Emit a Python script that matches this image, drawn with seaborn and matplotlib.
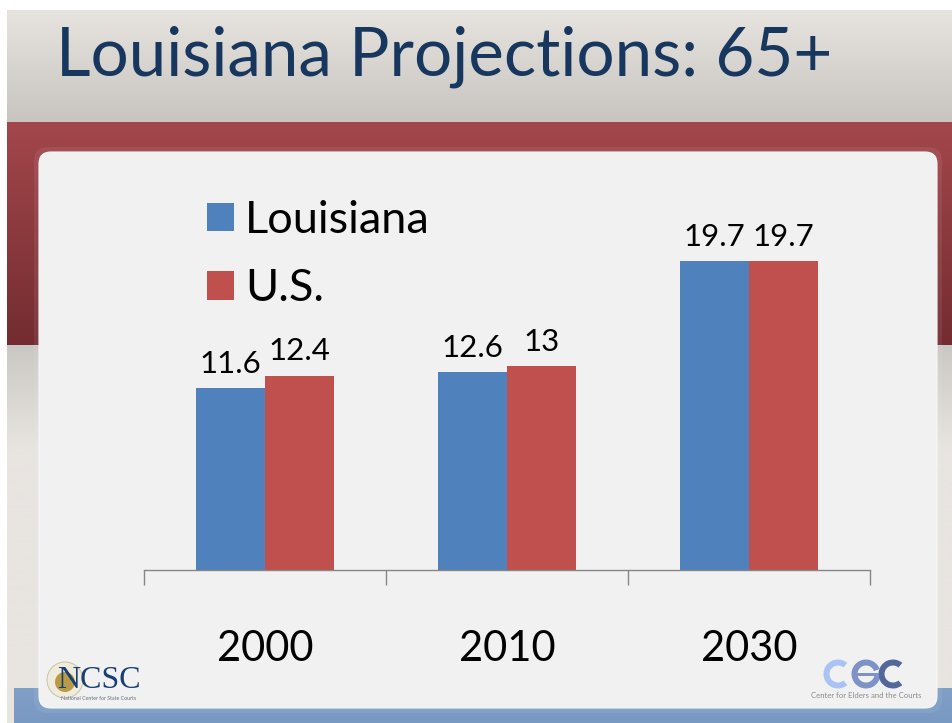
import numpy as np
import pandas as pd
import seaborn as sns
import matplotlib
matplotlib.use("Agg")
import matplotlib.pyplot as plt
from matplotlib.colors import LinearSegmentedColormap
from matplotlib.patches import FancyBboxPatch, Rectangle, Circle, Wedge

years = ["2000", "2010", "2030"]
louisiana = [11.6, 12.6, 19.7]
us = [12.4, 13, 19.7]
louisiana_labels = ["11.6", "12.6", "19.7"]
us_labels = ["12.4", "13", "19.7"]
title = "Louisiana Projections: 65+"

sns.set_theme(style="white")
plt.rcParams["font.family"] = ["Lato", "DejaVu Sans"]

W, H = 952, 723
fig = plt.figure(figsize=(W / 100, H / 100), dpi=100, facecolor="white")

# slide background, in pixel coordinates
bg = fig.add_axes([0, 0, 1, 1], zorder=0)


def band(x0, x1, y0, y1, c0, c1):
    cmap = LinearSegmentedColormap.from_list("b", [c0, c1])
    grad = np.linspace(0, 1, 256).reshape(-1, 1)
    bg.imshow(grad, extent=(x0, x1, y1, y0), cmap=cmap, aspect="auto", zorder=1)


band(7, W, 10, 122, "#E7E3DF", "#C8C4C0")
band(7, W, 122, 345, "#A3474B", "#732C30")
band(7, W, 345, 450, "#CBC7C3", "#E8E4E0")
band(7, W, 450, 688, "#E8E4E0", "#E8E4E0")
band(14, W, 688, H, "#7F9FC6", "#7899C2")
band(7, 14, 688, H, "#E8E4E0", "#E8E4E0")
bg.set_xlim(0, W)
bg.set_ylim(H, 0)
bg.axis("off")

bg.add_patch(FancyBboxPatch((34, 147), 908, 566,
                            boxstyle="round,pad=0,rounding_size=14",
                            fc="#FFFFFF", ec="none", alpha=0.07, zorder=2))
bg.add_patch(FancyBboxPatch((39, 152), 898, 556,
                            boxstyle="round,pad=0,rounding_size=12",
                            fc="#F1F1F1", ec="#F8F8F8", lw=0.8, zorder=3))

bg.text(55.5, 57, title, fontsize=48.5, color="#17375E", va="center", ha="left", zorder=4)

# NCSC logo
bg.add_patch(Circle((65, 680), 18, fc="#EFEBDD", ec="#C9C2A0", lw=0.7, zorder=4))
bg.add_patch(Circle((65, 682), 10, fc="#B99A45", ec="none", zorder=4))
bg.text(98.5, 681, "NCSC", fontsize=23, color="#173F73", ha="center", va="center",
        family=["Liberation Serif"], zorder=5)
bg.text(99, 698, "National Center for State Courts", fontsize=3.8, color="#5F6F85",
        ha="center", va="center", zorder=5)

# CEC logo drawn as three rings
for cx, colour, a0, a1 in [(838, "#A9C3F2", 50, 310), (866, "#7D93C8", 10, 340),
                           (893, "#53689A", 50, 310)]:
    bg.add_patch(Wedge((cx, 674), 14.5, a0, a1, width=6, fc=colour, ec="none", zorder=5))
bg.add_patch(Rectangle((853, 672.5), 26, 3, fc="#7D93C8", ec="none", zorder=5))
bg.text(866, 696, "Center for Elders and the Courts", fontsize=5.6, color="#8A8A8A",
        ha="center", va="center", zorder=5)

# chart
df = pd.DataFrame({
    "year": years * 2,
    "value": louisiana + us,
    "series": ["Louisiana"] * 3 + ["U.S."] * 3,
})

y_bottom, y_top = 570, 177.9
ax = fig.add_axes([144 / W, 1 - y_bottom / H, (870 - 144) / W, (y_bottom - y_top) / H], zorder=5)
ax.patch.set_alpha(0)
sns.barplot(data=df, x="year", y="value", hue="series", order=years,
            palette=["#4F81BD", "#C0504D"], width=0.57, gap=0, saturation=1,
            ax=ax, linewidth=0)
ax.set_xlim(-0.5, 2.5)
ax.set_ylim(0, 25)
ax.set_xlabel("")
ax.set_ylabel("")
ax.set_yticks([])
for s in ["top", "left", "right"]:
    ax.spines[s].set_visible(False)
ax.spines["bottom"].set_color("#868686")
ax.spines["bottom"].set_linewidth(1)
ax.set_xticks([-0.5, 0.5, 1.5, 2.5], minor=True)
ax.tick_params(axis="x", which="minor", length=11, width=1, color="#868686", bottom=True)
ax.tick_params(axis="x", which="major", length=0, pad=43, labelsize=30, labelcolor="black")

for container, labels in zip(ax.containers, [louisiana_labels, us_labels]):
    ax.bar_label(container, labels=labels, padding=7.5, fontsize=22.5, color="black")

leg = ax.legend(loc="upper left", bbox_to_anchor=(207 / W, 1 - 200 / H),
                bbox_transform=fig.transFigure, frameon=False,
                handlelength=0.6, handleheight=0.6, handletextpad=0.25, labelspacing=0.6,
                borderpad=0, borderaxespad=0, prop={"size": 32.5})
for t in leg.get_texts():
    t.set_color("black")

fig.savefig("out.png", dpi=100, facecolor="white")
